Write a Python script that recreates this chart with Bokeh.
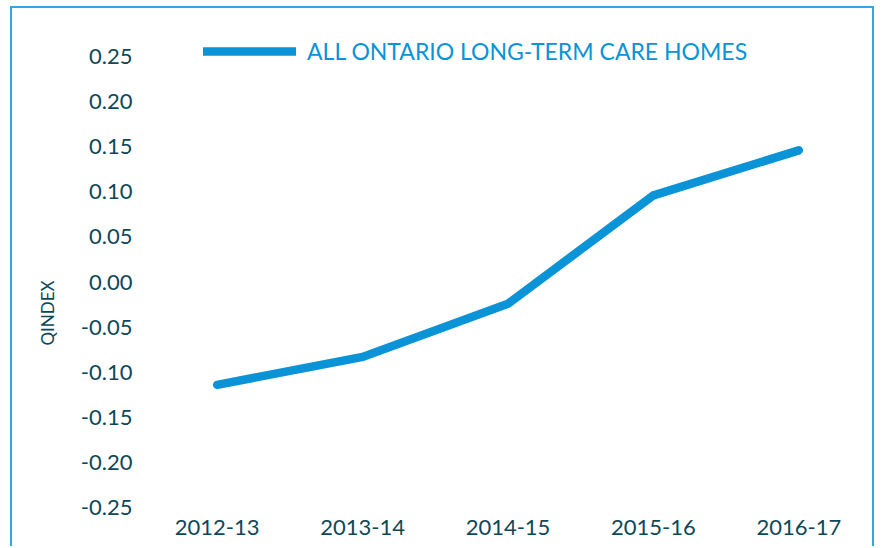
from bokeh.plotting import figure
from bokeh.models import (FactorRange, Range1d, FixedTicker, NumeralTickFormatter,
                          Legend, LegendItem, Title)
from bokeh.embed import file_html
from bokeh.resources import INLINE

years = ["2012-13", "2013-14", "2014-15", "2015-16", "2016-17"]
qindex = [-0.114, -0.083, -0.024, 0.096, 0.146]
y_ticks = [-0.25, -0.20, -0.15, -0.10, -0.05, 0.0, 0.05, 0.10, 0.15, 0.20, 0.25]
series_name = "ALL ONTARIO LONG-TERM CARE HOMES"
y_title = "QINDEX"

TEXT = "#0d4859"
BLUE = "#0a93d6"
FONT = "Lato"

p = figure(width=864, height=540, output_backend="svg", toolbar_location=None,
           x_range=FactorRange(factors=years, range_padding=0),
           y_range=Range1d(-0.2533, 0.2844),
           min_border_left=132, min_border_right=5, min_border_top=17, min_border_bottom=38)
p.styles = {"border-top": "2px solid #35a6df", "border-left": "2px solid #35a6df",
            "border-right": "2px solid #35a6df",
            "margin-left": "10px", "margin-top": "6px"}
p.outline_line_color = None
p.xgrid.visible = False
p.ygrid.visible = False
p.background_fill_color = "white"
p.border_fill_color = "white"

r = p.line(x=years, y=qindex, line_color=BLUE, line_width=8.5, line_cap="round", line_join="miter")

for ax in (p.xaxis[0], p.yaxis[0]):
    ax.axis_line_color = None
    ax.major_tick_line_color = None
    ax.minor_tick_line_color = None
    ax.major_tick_out = 0
    ax.major_tick_in = 0
    ax.minor_tick_out = 0
    ax.minor_tick_in = 0
    ax.major_label_text_font = FONT
    ax.major_label_text_font_size = "22px"
    ax.major_label_text_color = TEXT

p.yaxis.ticker = FixedTicker(ticks=y_ticks)
p.yaxis.formatter = NumeralTickFormatter(format="0.00")
p.yaxis.major_label_standoff = 12
p.xaxis.major_label_standoff = 9

p.add_layout(Title(text=y_title, align="left", offset=165, standoff=40,
                   text_font=FONT, text_font_size="17px", text_font_style="normal",
                   text_color=TEXT), "left")

legend = Legend(items=[LegendItem(label=series_name, renderers=[r])],
                location=(59, 445), orientation="horizontal",
                glyph_width=93, glyph_height=24, label_height=24, label_standoff=11,
                padding=0, margin=0, border_line_color=None, background_fill_alpha=0,
                label_text_font=FONT, label_text_font_size="23px", label_text_color=BLUE)
p.add_layout(legend)

open("out.html", "w").write(file_html(p, INLINE))
